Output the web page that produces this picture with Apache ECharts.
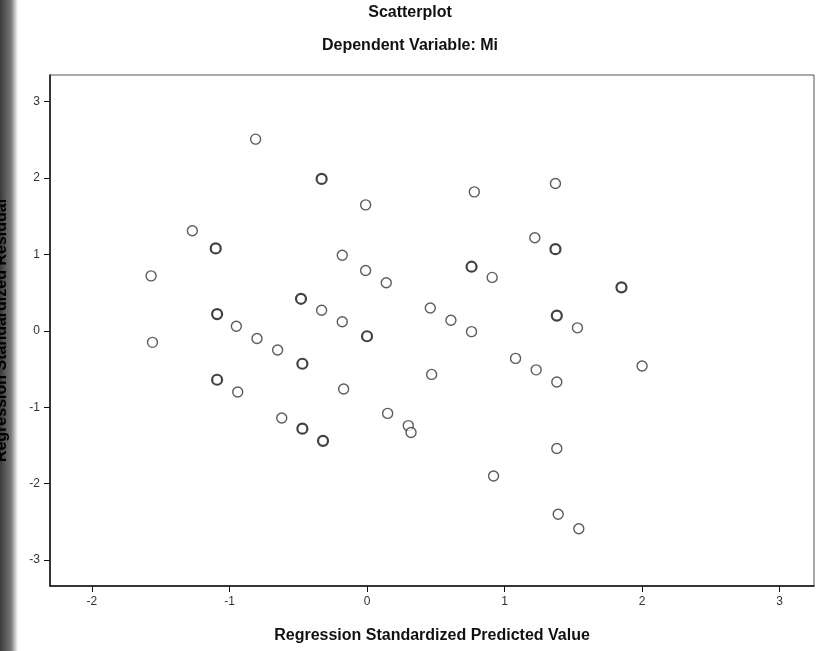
<!DOCTYPE html>
<html>
<head>
<meta charset="utf-8">
<script src="https://cdn.jsdelivr.net/npm/echarts@6/dist/echarts.min.js"></script>
<style>
  html, body { margin: 0; padding: 0; background: #fff; }
  #main { width: 822px; height: 651px; }
</style>
</head>
<body>
<div id="main"></div>
<script>
// predicted (x) / residual (y), single points
var singleX = [-1.57, -1.56, -1.27, -0.95, -0.94, -0.81, -0.80, -0.65, -0.62, -0.33,
               -0.18, -0.18, -0.17, -0.01, -0.01, 0.14, 0.15, 0.30, 0.32, 0.46,
               0.47, 0.61, 0.76, 0.78, 0.91, 0.92, 1.08, 1.22, 1.23, 1.37,
               1.38, 1.38, 1.39, 1.53, 1.54, 2.00];
var singleY = [0.72, -0.15, 1.31, 0.06, -0.80, 2.51, -0.10, -0.25, -1.14, 0.27,
               0.99, 0.12, -0.76, 1.65, 0.79, 0.63, -1.08, -1.24, -1.33, 0.30,
               -0.57, 0.14, -0.01, 1.82, 0.70, -1.90, -0.36, 1.22, -0.51, 1.93,
               -0.67, -1.54, -2.40, 0.04, -2.59, -0.46];
// points that print darker in the picture (overlapping cases)
var overlapX = [-1.10, -1.09, -1.09, -0.48, -0.47, -0.47, -0.33, -0.32, 0.00, 0.76, 1.37, 1.38, 1.85];
var overlapY = [1.08, 0.22, -0.64, 0.42, -0.43, -1.28, 1.99, -1.44, -0.07, 0.84, 1.07, 0.20, 0.57];

var xTicks = [-2, -1, 0, 1, 2, 3];
var yTicks = [-3, -2, -1, 0, 1, 2, 3];

function pairs(xs, ys) {
  return xs.map(function (x, i) { return [x, ys[i]]; });
}

var chart = echarts.init(document.getElementById('main'));
chart.setOption({
  backgroundColor: '#fff',
  animation: false,
  textStyle: { fontFamily: 'Liberation Sans, Arial, sans-serif' },
  graphic: [
    {
      type: 'rect', x: 0, y: 0, z: 0,
      shape: { width: 18, height: 651 },
      style: {
        fill: {
          type: 'linear', x: 0, y: 0, x2: 1, y2: 0,
          colorStops: [
            { offset: 0, color: '#3a3a3a' },
            { offset: 0.6, color: '#777' },
            { offset: 1, color: '#fff' }
          ]
        }
      }
    },
    {
      type: 'text', x: 410, y: 5,
      style: { text: 'Scatterplot', font: 'bold 16px Liberation Sans', fill: '#111', textAlign: 'center' }
    },
    {
      type: 'text', x: 410, y: 38,
      style: { text: 'Dependent Variable: Mi', font: 'bold 16px Liberation Sans', fill: '#111', textAlign: 'center' }
    }
  ],
  grid: {
    left: 50, right: 8, top: 75, bottom: 65,
    containLabel: false,
    outerBoundsMode: 'none',
    show: true, borderColor: '#555', borderWidth: 1, backgroundColor: '#fff'
  },
  xAxis: {
    type: 'value',
    min: -2.305, max: 3.25,
    name: 'Regression Standardized Predicted Value',
    nameLocation: 'middle',
    nameGap: 42,
    nameTextStyle: { fontSize: 16, fontWeight: 'bold', color: '#111' },
    axisLine: { show: true, onZero: false, lineStyle: { color: '#111', width: 1.5 } },
    axisTick: { show: true, length: 6, customValues: xTicks, lineStyle: { color: '#111' } },
    axisLabel: { fontSize: 12, color: '#333', margin: 10, customValues: xTicks },
    splitLine: { show: false }
  },
  yAxis: {
    type: 'value',
    min: -3.34, max: 3.35,
    name: 'Regression Standardized Residual',
    nameLocation: 'middle',
    nameGap: 40,
    nameTextStyle: { fontSize: 16, fontWeight: 'bold', color: '#000' },
    axisLine: { show: true, onZero: false, lineStyle: { color: '#111', width: 1.5 } },
    axisTick: { show: true, length: 6, customValues: yTicks, lineStyle: { color: '#111' } },
    axisLabel: { fontSize: 12, color: '#333', margin: 10, customValues: yTicks },
    splitLine: { show: false }
  },
  series: [
    {
      type: 'scatter',
      data: pairs(singleX, singleY),
      symbol: 'circle',
      symbolSize: 10,
      itemStyle: { color: '#fff', borderColor: '#333', borderWidth: 1.4 }
    },
    {
      type: 'scatter',
      data: pairs(overlapX, overlapY),
      symbol: 'circle',
      symbolSize: 10,
      itemStyle: { color: '#fff', borderColor: '#111', borderWidth: 2.2 }
    }
  ]
});
</script>
</body>
</html>
